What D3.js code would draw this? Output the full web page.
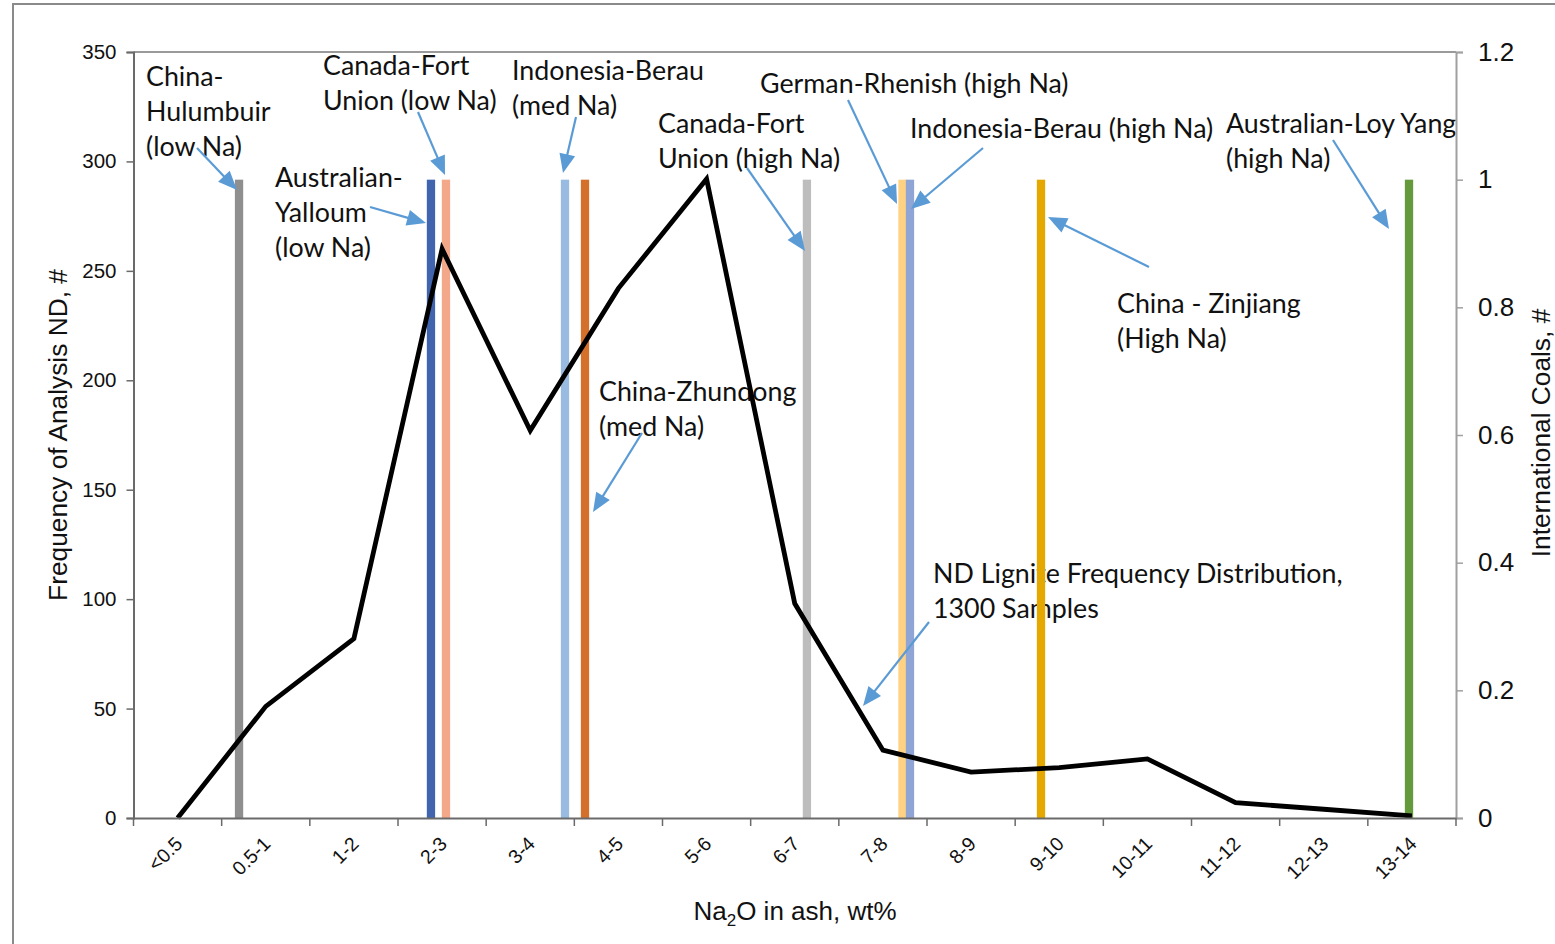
<!DOCTYPE html>
<html>
<head>
<meta charset="utf-8">
<script src="https://cdn.jsdelivr.net/npm/d3@7"></script>
<style>
  html, body { margin: 0; padding: 0; background: #fff; }
  svg { display: block; }
</style>
</head>
<body>
<svg id="chart" width="1555" height="944"></svg>
<script>
// ---------------- DATA ----------------
const categories = ["<0.5","0.5-1","1-2","2-3","3-4","4-5","5-6","6-7","7-8","8-9","9-10","10-11","11-12","12-13","13-14"];
const ndFrequency = [0, 51, 82, 260, 177, 242, 292, 98, 31, 21, 23, 27, 7, 4, 1];

// International coals (secondary axis, value 1 each), position in category-band units
const coalNames = ["China-Hulumbuir (low Na)","Australian-Yalloum (low Na)","Canada-Fort Union (low Na)",
  "Indonesia-Berau (med Na)","China-Zhundong (med Na)","Canada-Fort Union (high Na)",
  "German-Rhenish (high Na)","Indonesia-Berau (high Na)","China - Zinjiang (High Na)","Australian-Loy Yang (high Na)"];
const coalPosition = [1.197, 3.374, 3.544, 4.894, 5.121, 7.638, 8.722, 8.807, 10.293, 14.467];
const coalValue = [1, 1, 1, 1, 1, 1, 1, 1, 1, 1];
const coalColors = ["#8f8f8f","#4064ad","#f3a889","#9abbe1","#d5702b","#bdbdbd","#ffd283","#8fa5d5","#e5a800","#64993c"];

const leftTicks = [0, 50, 100, 150, 200, 250, 300, 350];
const rightTicks = [0, 0.2, 0.4, 0.6, 0.8, 1, 1.2];

// ---------------- LAYOUT ----------------
const plot = { left: 133.5, right: 1456, top: 52, bottom: 818 };

const svg = d3.select("#chart");

// outer frame
svg.append("rect").attr("x", 13).attr("y", 4).attr("width", 1560).attr("height", 960)
  .attr("fill", "none").attr("stroke", "#8a8a8a").attr("stroke-width", 2);

const x = d3.scaleBand().domain(categories).range([plot.left, plot.right]).paddingInner(0).paddingOuter(0);
const xPos = d3.scaleLinear().domain([0, categories.length]).range([plot.left, plot.right]);
const yL = d3.scaleLinear().domain([0, 350]).range([plot.bottom, plot.top]);
const yR = d3.scaleLinear().domain([0, 1.2]).range([plot.bottom, plot.top]);

// top border of plot area
svg.append("line").attr("x1", plot.left).attr("x2", plot.right).attr("y1", plot.top).attr("y2", plot.top)
  .attr("stroke", "#9a9a9a").attr("stroke-width", 2);

// ---------------- ANNOTATION TEXT ----------------
const annFont = "Lato, 'Open Sans', sans-serif";
const annotations = [
  { x: 146, y: 86, lines: ["China-", "Hulumbuir", "(low Na)"] },
  { x: 323, y: 75, lines: ["Canada-Fort", "Union (low Na)"] },
  { x: 275, y: 187, lines: ["Australian-", "Yalloum", "(low Na)"] },
  { x: 512, y: 80, lines: ["Indonesia-Berau", "(med Na)"] },
  { x: 658, y: 133, lines: ["Canada-Fort", "Union (high Na)"] },
  { x: 760, y: 93, lines: ["German-Rhenish (high Na)"] },
  { x: 910, y: 138, lines: ["Indonesia-Berau (high Na)"] },
  { x: 1226, y: 133, lines: ["Australian-Loy Yang", "(high Na)"] },
  { x: 1117, y: 313, lines: ["China - Zinjiang", "(High Na)"] },
  { x: 599, y: 401, lines: ["China-Zhundong", "(med Na)"] },
  { x: 933, y: 583, lines: ["ND Lignite Frequency Distribution,", "1300 Samples"] }
];
const annG = svg.append("g");
annotations.forEach(a => {
  const t = annG.append("text").attr("x", a.x).attr("y", a.y)
    .attr("font-family", annFont).attr("font-size", 26.8).attr("fill", "#111");
  a.lines.forEach((ln, i) => {
    t.append("tspan").attr("x", a.x).attr("dy", i === 0 ? 0 : 35).text(ln);
  });
});

// ---------------- BARS (international coals) ----------------
const barW = 8.3;
svg.append("g").selectAll("rect").data(coalPosition).join("rect")
  .attr("x", (d) => xPos(d) - barW / 2)
  .attr("y", (d, i) => yR(coalValue[i]))
  .attr("width", barW)
  .attr("height", (d, i) => yR(0) - yR(coalValue[i]))
  .attr("fill", (d, i) => coalColors[i]);

// ---------------- LINE ----------------
const line = d3.line().x((d, i) => x(categories[i]) + x.bandwidth() / 2).y(d => yL(d));
svg.append("path").datum(ndFrequency).attr("d", line)
  .attr("fill", "none").attr("stroke", "#000").attr("stroke-width", 4.8).attr("stroke-linejoin", "miter");

// ---------------- AXES ----------------
const axisFont = "'Liberation Sans', Arial, sans-serif";

const gL = svg.append("g").attr("transform", `translate(${plot.left},0)`)
  .call(d3.axisLeft(yL).tickValues(leftTicks).tickSize(7).tickPadding(10).tickFormat(d3.format("d")));
gL.select(".domain").attr("stroke", "#6a6a6a").attr("stroke-width", 2);
gL.selectAll(".tick line").attr("stroke", "#6a6a6a").attr("stroke-width", 1.5);
gL.selectAll(".tick text").attr("font-family", axisFont).attr("font-size", 20.5).attr("fill", "#111");

const gR = svg.append("g").attr("transform", `translate(${plot.right},0)`)
  .call(d3.axisRight(yR).tickValues(rightTicks).tickSize(7).tickPadding(15).tickFormat(d => d3.format("~g")(d)));
gR.select(".domain").attr("stroke", "#a0a0a0").attr("stroke-width", 2);
gR.selectAll(".tick line").attr("stroke", "#a0a0a0").attr("stroke-width", 1.5);
gR.selectAll(".tick text").attr("font-family", axisFont).attr("font-size", 26).attr("fill", "#111");

const gX = svg.append("g").attr("transform", `translate(0,${plot.bottom})`)
  .call(d3.axisBottom(x).tickSize(0).tickPadding(0));
gX.select(".domain").attr("stroke", "#6a6a6a").attr("stroke-width", 2);
// boundary tick marks
gX.selectAll(".bound").data(d3.range(categories.length + 1)).join("line")
  .attr("class", "bound")
  .attr("x1", d => xPos(d)).attr("x2", d => xPos(d))
  .attr("y1", 0).attr("y2", 8)
  .attr("stroke", "#6a6a6a").attr("stroke-width", 1.5);
gX.selectAll(".tick text")
  .attr("font-family", axisFont).attr("font-size", 19.5).attr("fill", "#111")
  .attr("text-anchor", "end")
  .attr("dy", "0")
  .attr("transform", "translate(6,27) rotate(-45)");

// ---------------- AXIS TITLES ----------------
svg.append("text").attr("transform", "translate(67,435) rotate(-90)")
  .attr("text-anchor", "middle").attr("font-family", axisFont).attr("font-size", 26.3).attr("fill", "#111")
  .text("Frequency of Analysis ND, #");
svg.append("text").attr("transform", "translate(1550,433) rotate(-90)")
  .attr("text-anchor", "middle").attr("font-family", axisFont).attr("font-size", 26.3).attr("fill", "#111")
  .text("International Coals, #");
const xt = svg.append("text").attr("x", 795).attr("y", 920)
  .attr("text-anchor", "middle").attr("font-family", axisFont).attr("font-size", 26).attr("fill", "#111");
xt.append("tspan").text("Na");
xt.append("tspan").attr("font-size", 17).attr("dy", 6).text("2");
xt.append("tspan").attr("dy", -6).text("O in ash, wt%");

// ---------------- ARROWS ----------------
const arrows = [
  [197, 148, 237, 190],
  [418, 112, 445, 175],
  [370, 207, 426, 223],
  [576, 117, 563, 173],
  [747, 168, 805, 251],
  [848, 100, 897, 204],
  [983, 148, 911, 209],
  [1149, 267, 1048, 217],
  [1333, 140, 1389, 229],
  [642, 433, 593, 512],
  [929, 622, 863, 706]
];
const arrowColor = "#5b9bd5";
const aG = svg.append("g");
arrows.forEach(([x1, y1, x2, y2]) => {
  const dx = x2 - x1, dy = y2 - y1, len = Math.hypot(dx, dy);
  const ux = dx / len, uy = dy / len;
  const headL = 19, headW = 8;
  const bx = x2 - ux * headL, by = y2 - uy * headL;
  aG.append("line").attr("x1", x1).attr("y1", y1).attr("x2", bx + ux * 2).attr("y2", by + uy * 2)
    .attr("stroke", arrowColor).attr("stroke-width", 2.2);
  aG.append("path")
    .attr("d", `M${x2},${y2}L${bx - uy * headW},${by + ux * headW}L${bx + uy * headW},${by - ux * headW}Z`)
    .attr("fill", arrowColor);
});
</script>
</body>
</html>
